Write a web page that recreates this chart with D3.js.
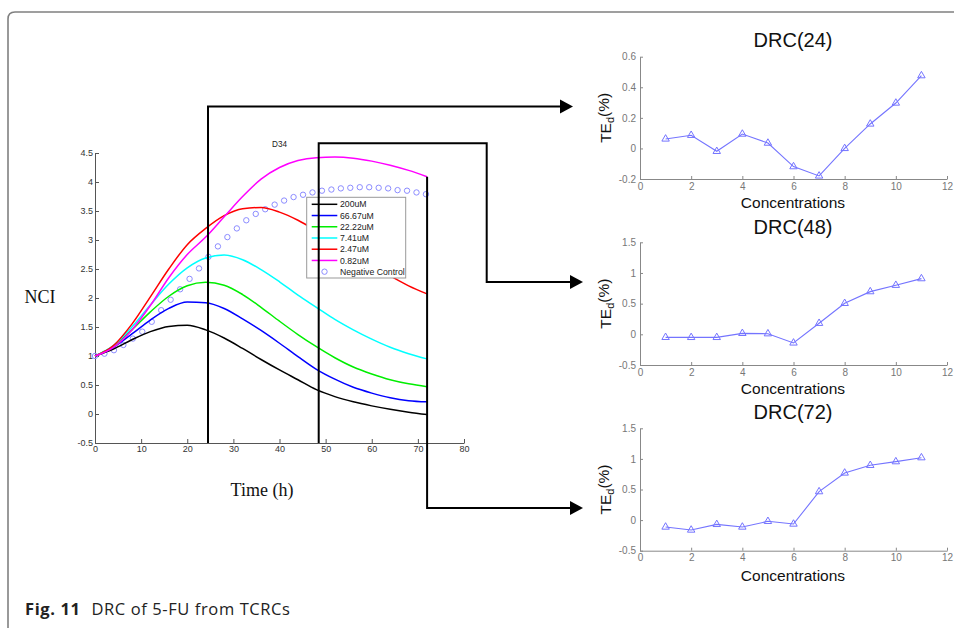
<!DOCTYPE html>
<html>
<head>
<meta charset="utf-8">
<script src="https://cdn.jsdelivr.net/npm/d3@7"></script>
<style>
  html, body { margin: 0; padding: 0; background: #fff; }
  svg { display: block; }
</style>
</head>
<body>
<svg id="chart" width="954" height="628"></svg>
<script>
// ---------------- DATA ----------------
const times = [0, 4, 8, 12, 16, 20, 24, 28, 32, 36, 40, 44, 48, 52, 56, 60, 64, 68, 72];
const seriesNames = ["200uM", "66.67uM", "22.22uM", "7.41uM", "2.47uM", "0.82uM"];
const seriesColors = ["#000000", "#0000ff", "#00ee00", "#00ffff", "#ff0000", "#ff00ff"];
const nci200 = [1.00, 1.12, 1.28, 1.42, 1.51, 1.53, 1.45, 1.31, 1.13, 0.94, 0.76, 0.59, 0.42, 0.30, 0.21, 0.14, 0.08, 0.03, -0.01];
const nci66 = [1.00, 1.15, 1.38, 1.62, 1.82, 1.93, 1.92, 1.82, 1.64, 1.44, 1.22, 0.99, 0.77, 0.60, 0.46, 0.36, 0.28, 0.23, 0.21];
const nci22 = [1.00, 1.17, 1.45, 1.76, 2.03, 2.21, 2.27, 2.22, 2.06, 1.84, 1.60, 1.37, 1.16, 0.97, 0.81, 0.69, 0.59, 0.52, 0.47];
const nci7 = [1.00, 1.18, 1.50, 1.88, 2.24, 2.52, 2.69, 2.74, 2.66, 2.49, 2.28, 2.05, 1.84, 1.63, 1.45, 1.29, 1.15, 1.04, 0.95];
const nci2 = [1.00, 1.18, 1.55, 2.02, 2.50, 2.92, 3.20, 3.42, 3.54, 3.56, 3.48, 3.34, 3.16, 2.97, 2.76, 2.56, 2.38, 2.21, 2.07];
const nci08 = [1.00, 1.15, 1.45, 1.87, 2.35, 2.75, 3.05, 3.40, 3.75, 4.05, 4.25, 4.37, 4.42, 4.43, 4.41, 4.36, 4.29, 4.20, 4.09];
const controlTimes = [0, 2.05, 4.1, 6.15, 8.2, 10.25, 12.3, 14.35, 16.4, 18.45, 20.5, 22.55, 24.6, 26.65, 28.7, 30.75, 32.8, 34.85, 36.9, 38.95, 41, 43.05, 45.1, 47.15, 49.2, 51.25, 53.3, 55.35, 57.4, 59.45, 61.5, 63.55, 65.6, 67.65, 69.7, 71.75];
const controlValues = [1.00, 1.04, 1.10, 1.19, 1.30, 1.42, 1.59, 1.79, 1.97, 2.15, 2.33, 2.51, 2.71, 2.89, 3.05, 3.20, 3.34, 3.45, 3.53, 3.61, 3.68, 3.74, 3.78, 3.82, 3.85, 3.87, 3.89, 3.90, 3.91, 3.91, 3.90, 3.89, 3.86, 3.85, 3.82, 3.79];
const mainXTicks = [0, 10, 20, 30, 40, 50, 60, 70, 80];
const mainYTicks = [-0.5, 0, 0.5, 1, 1.5, 2, 2.5, 3, 3.5, 4, 4.5];

const concentrations = [1, 2, 3, 4, 5, 6, 7, 8, 9, 10, 11];
const drc24 = [0.062, 0.086, -0.019, 0.094, 0.035, -0.119, -0.180, 0.000, 0.160, 0.297, 0.476];
const drc48 = [-0.049, -0.050, -0.050, 0.016, 0.010, -0.140, 0.180, 0.505, 0.696, 0.800, 0.908];
const drc72 = [-0.113, -0.162, -0.070, -0.113, -0.020, -0.064, 0.465, 0.770, 0.895, 0.955, 1.020];
const drcTitles = ["DRC(24)", "DRC(48)", "DRC(72)"];
const drcXTicks = [0, 2, 4, 6, 8, 10, 12];
const drc24YTicks = [-0.2, 0, 0.2, 0.4, 0.6];
const drcYTicks = [-0.5, 0, 0.5, 1, 1.5];
const drcTimes = [24.5, 48.5, 72]; // time points marked on the NCI chart

// ---------------- DRAW ----------------
const svg = d3.select("#chart");
svg.append("rect").attr("width", 954).attr("height", 628).attr("fill", "#fff");

// frame
svg.append("path")
  .attr("d", "M8,640 L8,19 Q8,12 15,12 L960,12")
  .attr("fill", "none").attr("stroke", "#808080").attr("stroke-width", 1.6);

const sans = "Liberation Sans, Arial, Helvetica, sans-serif";
const serif = "Liberation Serif, Times New Roman, serif";

// ----- main NCI chart -----
const x = d3.scaleLinear().domain([0, 80]).range([95, 464]);
const y = d3.scaleLinear().domain([-0.5, 4.5]).range([443, 153]);

const gx = svg.append("g").attr("transform", `translate(0,${y(-0.5)})`)
  .call(d3.axisBottom(x).tickValues(mainXTicks).tickFormat(d3.format("d")).tickSize(-4).tickSizeOuter(0).tickPadding(3));
const gy = svg.append("g").attr("transform", `translate(${x(0)},0)`)
  .call(d3.axisLeft(y).tickValues(mainYTicks).tickFormat(d => String(d)).tickSize(-4).tickSizeOuter(0).tickPadding(2));
[gx, gy].forEach(g => {
  g.select(".domain").attr("stroke", "#555");
  g.selectAll(".tick line").attr("stroke", "#555");
  g.selectAll(".tick text").attr("fill", "#333").style("font-family", sans).style("font-size", "9px");
});

const allSeries = [nci200, nci66, nci22, nci7, nci2, nci08];
const line = d3.line().x((d, i) => x(times[i])).y(d => y(d)).curve(d3.curveMonotoneX);

// control circles
svg.append("g").selectAll("circle").data(controlValues).join("circle")
  .attr("cx", (d, i) => x(controlTimes[i])).attr("cy", d => y(d)).attr("r", 2.7)
  .attr("fill", "none").attr("stroke", "#8c8cff").attr("stroke-width", 1);

allSeries.forEach((s, k) => {
  svg.append("path").datum(s).attr("d", line)
    .attr("fill", "none").attr("stroke", seriesColors[k]).attr("stroke-width", 1.5);
});

// D34 label
svg.append("text").attr("x", 272).attr("y", 146.5).text("D34")
  .style("font-family", sans).style("font-size", "8.2px").attr("fill", "#222");

// legend
const lg = svg.append("g");
lg.append("rect").attr("x", 306.7).attr("y", 197.3).attr("width", 99).attr("height", 80.7)
  .attr("fill", "#fff").attr("stroke", "#999").attr("stroke-width", 1);
const legendNames = seriesNames.concat(["Negative Control"]);
legendNames.forEach((n, i) => {
  const cy = 204.3 + i * 11.23;
  if (i < seriesNames.length) {
    lg.append("line").attr("x1", 311.7).attr("x2", 337.3).attr("y1", cy).attr("y2", cy)
      .attr("stroke", seriesColors[i]).attr("stroke-width", 1.5);
  } else {
    lg.append("circle").attr("cx", 324.5).attr("cy", cy).attr("r", 2.7)
      .attr("fill", "none").attr("stroke", "#8c8cff").attr("stroke-width", 1);
  }
  lg.append("text").attr("x", 340).attr("y", cy + 3.1).text(n)
    .style("font-family", sans).style("font-size", "8.7px").attr("fill", "#222");
});

// axis titles
svg.append("text").attr("x", 40).attr("y", 303).attr("text-anchor", "middle").text("NCI")
  .style("font-family", serif).style("font-size", "18px").attr("fill", "#111");
svg.append("text").attr("x", 262).attr("y", 496).attr("text-anchor", "middle").text("Time (h)")
  .style("font-family", serif).style("font-size", "18px").attr("fill", "#111");

// ----- connectors with arrows -----
const conn = svg.append("g").attr("fill", "none").attr("stroke", "#000").attr("stroke-width", 2);
const xa = x(drcTimes[0]), xb = x(drcTimes[1]), xc = x(drcTimes[2]);
const yAxisBottom = y(-0.5);
conn.append("path").attr("d", `M${xa},${yAxisBottom} L${xa},106.5 L561,106.5`);
conn.append("path").attr("d", `M${xb},${yAxisBottom} L${xb},143.3 L486.7,143.3 L486.7,282 L570,282`);
conn.append("path").attr("d", `M${xc},${y(nci08[nci08.length - 1])} L${xc},508 L570,508`);
[[573, 106.5], [583, 282], [583, 508]].forEach(([tx, ty]) => {
  svg.append("path").attr("d", `M${tx},${ty} L${tx - 13},${ty - 7} L${tx - 13},${ty + 7} Z`).attr("fill", "#000");
});

// ----- DRC panels -----
const xd = d3.scaleLinear().domain([0, 12]).range([640, 947]);
const panels = [
  { data: drc24, domain: [-0.2, 0.6], range: [179, 56.7], ticks: drc24YTicks, title: drcTitles[0], titleY: 47, xlabY: 207.5 },
  { data: drc48, domain: [-0.5, 1.5], range: [365, 242.3], ticks: drcYTicks, title: drcTitles[1], titleY: 234, xlabY: 394 },
  { data: drc72, domain: [-0.5, 1.5], range: [550.7, 428.3], ticks: drcYTicks, title: drcTitles[2], titleY: 419, xlabY: 580.5 }
];
const drcColor = "#7474ff";
panels.forEach(p => {
  const yd = d3.scaleLinear().domain(p.domain).range(p.range);
  const g = svg.append("g");
  const ax = g.append("g").attr("transform", `translate(0,${p.range[0]})`)
    .call(d3.axisBottom(xd).tickValues(drcXTicks).tickSize(-3).tickSizeOuter(0).tickPadding(3.5));
  const ay = g.append("g").attr("transform", `translate(${xd(0)},0)`)
    .call(d3.axisLeft(yd).tickValues(p.ticks).tickFormat(d => String(Math.round(d * 10) / 10)).tickSize(-3).tickSizeOuter(0).tickPadding(4));
  [ax, ay].forEach(a => {
    a.select(".domain").attr("stroke", "#888");
    a.selectAll(".tick line").attr("stroke", "#888");
    a.selectAll(".tick text").attr("fill", "#777").style("font-family", sans).style("font-size", "10px");
  });
  const ln = d3.line().x((d, i) => xd(concentrations[i])).y(d => yd(d));
  g.append("path").datum(p.data).attr("d", ln).attr("fill", "none").attr("stroke", drcColor).attr("stroke-width", 1.1);
  g.selectAll(".mk").data(p.data).join("path").attr("class", "mk")
    .attr("transform", (d, i) => `translate(${xd(concentrations[i])},${yd(d)})`)
    .attr("d", d3.symbol().type(d3.symbolTriangle).size(24))
    .attr("fill", "none").attr("stroke", drcColor).attr("stroke-width", 1);
  g.append("text").attr("x", 793).attr("y", p.titleY).attr("text-anchor", "middle").text(p.title)
    .style("font-family", sans).style("font-size", "20px").attr("fill", "#111");
  g.append("text").attr("x", 793).attr("y", p.xlabY).attr("text-anchor", "middle").text("Concentrations")
    .style("font-family", sans).style("font-size", "15.5px").attr("fill", "#111");
  const mid = (p.range[0] + p.range[1]) / 2;
  const yl = g.append("text").attr("transform", `translate(610.5,${mid}) rotate(-90)`).attr("text-anchor", "middle")
    .style("font-family", sans).style("font-size", "15.5px").attr("fill", "#111");
  yl.append("tspan").text("TE");
  yl.append("tspan").text("d").attr("dy", "0.3em").style("font-size", "11px");
  yl.append("tspan").text("(%)").attr("dy", "-0.3em");
});

// ----- caption -----
const cap = svg.append("text").attr("x", 25).attr("y", 615)
  .style("font-family", "Open Sans, Noto Sans, sans-serif").style("font-size", "16.5px")
  .style("letter-spacing", "0.6px").attr("fill", "#222");
cap.append("tspan").text("Fig. 11").style("font-weight", "bold");
cap.append("tspan").text("DRC of 5-FU from TCRCs").attr("dx", 11);
</script>
</body>
</html>
